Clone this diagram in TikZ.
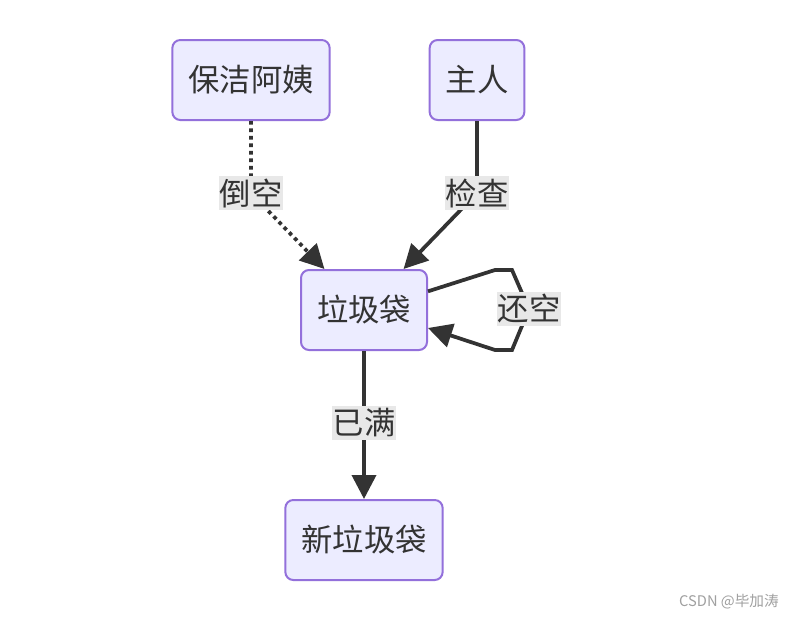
\documentclass[tikz,border=0pt]{standalone}
\usepackage{fontspec}
\setmainfont{Noto Sans CJK SC}
\usetikzlibrary{arrows.meta}
\definecolor{boxfill}{HTML}{ECECFF}
\definecolor{boxline}{HTML}{9370DB}
\definecolor{ink}{HTML}{333333}
\definecolor{lblbg}{HTML}{E8E8E8}
\definecolor{mark}{HTML}{A0A0A0}
\tikzset{
  stato/.style={draw=boxline, fill=boxfill, line width=1.5pt, rounded corners=6pt,
    minimum height=60pt, inner xsep=12pt, inner ysep=0pt, text=ink,
    font=\fontsize{23.5}{28}\selectfont},
  etich/.style={fill=lblbg, inner xsep=0.5pt, inner ysep=0pt, minimum height=26pt,
    text=ink, font=\fontsize{23.5}{28}\selectfont},
  freccia/.style={draw=ink, line width=2.8pt,
    -{Triangle[length=18pt,width=18pt]}},
  tratt/.style={dash pattern=on 2.8pt off 2.8pt}
}
\begin{document}
\begin{tikzpicture}[x=0.75pt,y=-0.75pt]
        \useasboundingbox[fill=white] (0,0) rectangle (794,618);
        %stati
        \node[stato] (ayi) at (251,80) {保洁阿姨};
        \node[stato] (zhuren) at (477,80) {主人};
        \node[stato] (dai) at (364,310) {垃圾袋};
        \node[stato] (xindai) at (364,540) {新垃圾袋};
        %punti delle etichette
        \coordinate (k1) at (251,193);
        \coordinate (k2) at (477,193);
        \coordinate (k3) at (529,309);
        \coordinate (k4) at (364,423);
        %frecce
        \draw[freccia,tratt] (ayi) -- (k1) -- (dai);
        \draw[freccia] (zhuren) -- (k2) -- (dai);
        \draw[freccia] ([yshift=14pt]dai.east) -- (495,270) -- (512,270) -- (k3)
          -- (512,350) -- (495,350) -- ([yshift=-13.5pt]dai.east);
        \draw[freccia] (dai) -- (xindai);
        %etichette
        \node[etich] (l1) at (k1) {倒空};
        \node[etich] (l2) at (k2) {检查};
        \node[etich] (l3) at (k3) {还空};
        \node[etich] (l4) at (k4) {已满};
        %firma
        \node[text=mark, font=\fontsize{11}{13}\selectfont] (firma) at (729,602) {CSDN @毕加涛};
    \end{tikzpicture}
\end{document}
